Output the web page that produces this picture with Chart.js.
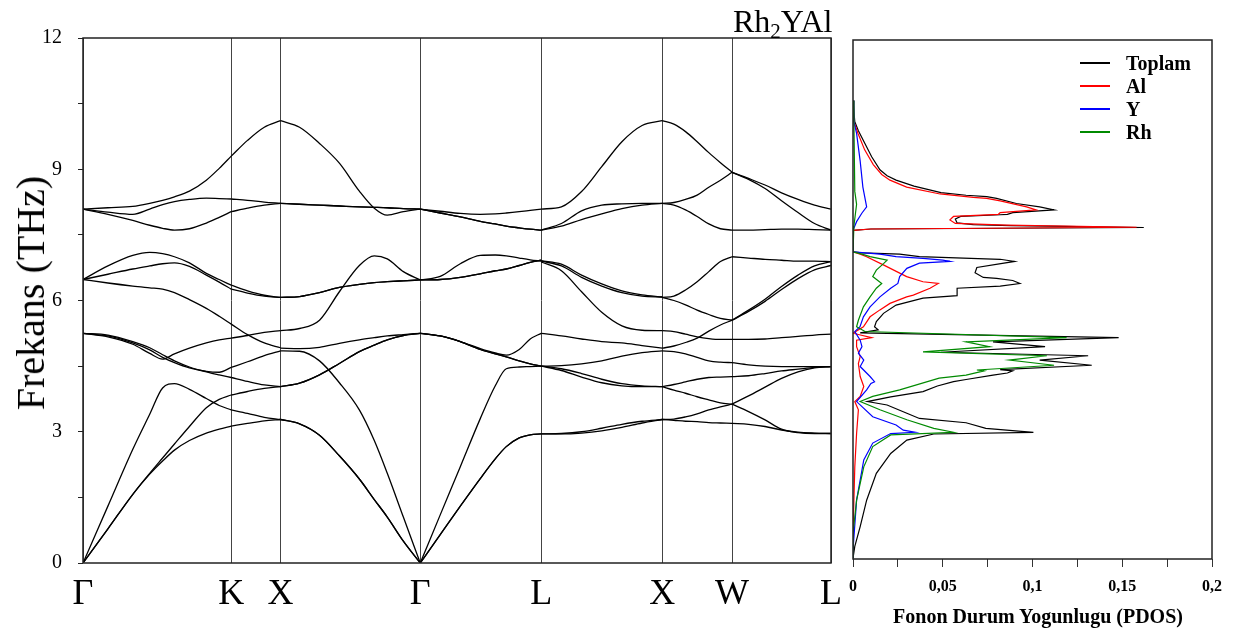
<!DOCTYPE html>
<html>
<head>
<meta charset="utf-8">
<script src="https://cdn.jsdelivr.net/npm/chart.js@4.4.1/dist/chart.umd.min.js"></script>
<style>
  body { margin: 0; background: #fff; width: 1233px; height: 637px; position: relative; overflow: hidden;
         font-family: "Liberation Serif", "DejaVu Serif", serif; color: #000; }
  canvas { position: absolute; top: 0; }
  #bandChart { left: 0; }
  #dosChart { left: 845px; }
  .txt { position: absolute; white-space: nowrap; line-height: 1; }
  #title { left: 733px; top: 5px; font-size: 32px; }
  #title sub { font-size: 21px; vertical-align: -6px; line-height: 0; }
  #ytitle { left: 31px; top: 293px; font-size: 40px; transform: translate(-50%, -50%) rotate(-90deg); }
  #xtitle2 { left: 1038px; top: 616px; font-size: 20px; font-weight: bold; transform: translate(-50%, -50%); }
  .leg { position: absolute; left: 1080px; font-size: 20px; font-weight: bold; white-space: nowrap; }
  .leg i { position: absolute; left: 0; top: 10px; width: 30px; height: 2px; }
  .leg span { margin-left: 46px; }
</style>
</head>
<body>
<canvas id="bandChart" width="845" height="637"></canvas>
<canvas id="dosChart" width="388" height="637"></canvas>
<div class="txt" id="title">Rh<sub>2</sub>YAl</div>
<div class="txt" id="ytitle">Frekans (THz)</div>
<div class="txt" id="xtitle2">Fonon Durum Yogunlugu (PDOS)</div>
<div class="leg" style="top:52px"><i style="background:#000"></i><span>Toplam</span></div>
<div class="leg" style="top:75px"><i style="background:#ff0000"></i><span>Al</span></div>
<div class="leg" style="top:98px"><i style="background:#0000ff"></i><span>Y</span></div>
<div class="leg" style="top:121px"><i style="background:#008a00"></i><span>Rh</span></div>
<script>
// yüksek simetri noktaları (yol uzunluğu, 2π/a)
const symLabels = ['Γ', 'K', 'X', 'Γ', 'L', 'X', 'W', 'L'];
const symPos = [0, 1.061, 1.414, 2.414, 3.280, 4.146, 4.646, 5.354];

// her segmentteki örnek noktalar (segment kesri)
const kFracGK = [0, 0.168, 0.336, 0.450, 0.537, 0.617, 0.718, 0.832, 0.919, 1];
const kFracKX = [0, 0.33, 0.67, 1];
const kFracXG = [0, 0.136, 0.279, 0.421, 0.564, 0.671, 0.764, 0.879, 1];
const kFracGL = [0, 0.165, 0.331, 0.496, 0.620, 0.711, 0.818, 0.909, 1];
const kFrac6 = [0, 1/6, 2/6, 3/6, 4/6, 5/6, 1];

// frekanslar (THz)
const bandsGK = [
  [8.09, 8.12, 8.15, 8.22, 8.29, 8.37, 8.50, 8.75, 9.02, 9.30],
  [8.09, 8.02, 7.97, 8.09, 8.19, 8.26, 8.31, 8.34, 8.33, 8.32],
  [8.09, 7.97, 7.83, 7.72, 7.65, 7.61, 7.64, 7.77, 7.90, 8.03],
  [6.48, 6.79, 7.03, 7.10, 7.07, 7.00, 6.86, 6.62, 6.48, 6.35],
  [6.48, 6.60, 6.72, 6.79, 6.84, 6.86, 6.78, 6.58, 6.42, 6.26],
  [6.48, 6.40, 6.33, 6.29, 6.26, 6.18, 6.02, 5.82, 5.64, 5.46],
  [5.25, 5.17, 5.00, 4.79, 4.66, 4.78, 4.91, 5.03, 5.10, 5.14],
  [5.25, 5.19, 5.03, 4.87, 4.70, 4.58, 4.46, 4.38, 4.36, 4.47],
  [5.25, 5.21, 5.06, 4.92, 4.76, 4.62, 4.48, 4.37, 4.30, 4.24],
  [0, 1.30, 2.60, 3.40, 4.00, 4.10, 3.97, 3.76, 3.60, 3.50],
  [0, 0.78, 1.57, 2.05, 2.40, 2.72, 3.12, 3.55, 3.74, 3.84],
  [0, 0.78, 1.57, 2.03, 2.33, 2.58, 2.80, 2.97, 3.06, 3.13]
];
const bandsKX = [
  [9.30, 9.66, 9.96, 10.11],
  [8.32, 8.29, 8.25, 8.22],
  [8.03, 8.11, 8.18, 8.22],
  [6.35, 6.22, 6.12, 6.07],
  [6.26, 6.17, 6.10, 6.07],
  [5.46, 5.22, 5.03, 4.92],
  [5.14, 5.20, 5.27, 5.31],
  [4.47, 4.60, 4.74, 4.85],
  [4.24, 4.15, 4.07, 4.03],
  [3.84, 3.92, 3.99, 4.03],
  [3.50, 3.42, 3.33, 3.28],
  [3.13, 3.19, 3.25, 3.28]
];
const bandsXG = [
  [10.11, 9.96, 9.59, 9.14, 8.50, 8.11, 7.95, 8.03, 8.09],
  [8.22, 8.20, 8.18, 8.16, 8.14, 8.13, 8.12, 8.10, 8.09],
  [8.22, 8.20, 8.18, 8.16, 8.14, 8.13, 8.12, 8.10, 8.09],
  [6.07, 6.09, 6.18, 6.30, 6.37, 6.41, 6.43, 6.45, 6.47],
  [6.07, 6.09, 6.18, 6.30, 6.37, 6.41, 6.43, 6.45, 6.47],
  [5.31, 5.36, 5.55, 6.20, 6.80, 7.02, 6.95, 6.66, 6.47],
  [4.91, 4.90, 4.93, 5.02, 5.10, 5.15, 5.19, 5.22, 5.25],
  [4.85, 4.84, 4.62, 4.12, 3.50, 2.80, 2.05, 1.05, 0],
  [4.03, 4.11, 4.30, 4.56, 4.83, 4.98, 5.10, 5.20, 5.25],
  [4.03, 4.11, 4.30, 4.56, 4.83, 4.98, 5.10, 5.20, 5.25],
  [3.28, 3.18, 2.92, 2.45, 1.92, 1.45, 1.05, 0.50, 0],
  [3.28, 3.18, 2.92, 2.45, 1.92, 1.45, 1.05, 0.50, 0]
];
const bandsGL = [
  [8.09, 8.04, 7.99, 7.97, 7.98, 8.00, 8.03, 8.06, 8.09],
  [8.09, 8.00, 7.91, 7.81, 7.75, 7.70, 7.66, 7.63, 7.61],
  [8.09, 8.00, 7.91, 7.81, 7.75, 7.70, 7.66, 7.63, 7.61],
  [6.47, 6.55, 6.84, 7.03, 7.04, 7.02, 6.97, 6.93, 6.90],
  [6.47, 6.48, 6.53, 6.61, 6.68, 6.72, 6.80, 6.87, 6.92],
  [6.47, 6.48, 6.53, 6.61, 6.68, 6.72, 6.80, 6.87, 6.92],
  [5.25, 5.19, 5.06, 4.90, 4.80, 4.75, 4.88, 5.12, 5.25],
  [5.25, 5.19, 5.06, 4.88, 4.78, 4.71, 4.62, 4.55, 4.50],
  [5.25, 5.19, 5.06, 4.88, 4.78, 4.71, 4.62, 4.55, 4.50],
  [0, 1.10, 2.20, 3.30, 4.05, 4.44, 4.48, 4.49, 4.50],
  [0, 0.65, 1.30, 1.93, 2.38, 2.66, 2.86, 2.93, 2.95],
  [0, 0.65, 1.30, 1.93, 2.38, 2.66, 2.86, 2.93, 2.95]
];
const bandsLX = [
  [8.09, 8.14, 8.49, 9.06, 9.63, 10.00, 10.11],
  [7.61, 7.76, 8.05, 8.18, 8.21, 8.22, 8.22],
  [7.61, 7.70, 7.85, 7.98, 8.10, 8.18, 8.22],
  [6.91, 6.83, 6.58, 6.38, 6.22, 6.13, 6.08],
  [6.90, 6.79, 6.53, 6.33, 6.18, 6.10, 6.08],
  [6.88, 6.68, 6.20, 5.73, 5.42, 5.32, 5.31],
  [5.25, 5.19, 5.12, 5.06, 5.03, 4.97, 4.91],
  [4.50, 4.51, 4.55, 4.62, 4.73, 4.81, 4.85],
  [4.50, 4.44, 4.33, 4.20, 4.10, 4.05, 4.03],
  [4.50, 4.40, 4.25, 4.12, 4.05, 4.03, 4.03],
  [2.95, 2.96, 3.00, 3.08, 3.17, 3.24, 3.28],
  [2.95, 2.95, 2.97, 3.02, 3.10, 3.20, 3.28]
];
const bandsXW = [
  [10.11, 10.03, 9.86, 9.63, 9.38, 9.15, 8.93],
  [8.22, 8.24, 8.31, 8.41, 8.59, 8.75, 8.93],
  [8.22, 8.18, 8.07, 7.92, 7.75, 7.64, 7.61],
  [6.07, 6.10, 6.24, 6.43, 6.66, 6.89, 7.00],
  [6.07, 6.00, 5.90, 5.78, 5.68, 5.59, 5.55],
  [5.31, 5.29, 5.23, 5.17, 5.13, 5.11, 5.11],
  [4.91, 4.96, 5.04, 5.14, 5.30, 5.44, 5.55],
  [4.85, 4.83, 4.78, 4.70, 4.62, 4.59, 4.58],
  [4.03, 4.08, 4.14, 4.20, 4.24, 4.25, 4.26],
  [4.03, 3.95, 3.88, 3.80, 3.73, 3.66, 3.63],
  [3.28, 3.29, 3.34, 3.41, 3.50, 3.57, 3.63],
  [3.28, 3.26, 3.24, 3.23, 3.21, 3.20, 3.19]
];
const bandsWL = [
  [8.93, 8.79, 8.64, 8.46, 8.31, 8.18, 8.09],
  [8.93, 8.77, 8.56, 8.28, 8.01, 7.76, 7.61],
  [7.61, 7.61, 7.62, 7.63, 7.63, 7.62, 7.61],
  [7.00, 6.97, 6.94, 6.92, 6.90, 6.90, 6.89],
  [5.55, 5.78, 6.03, 6.32, 6.58, 6.79, 6.89],
  [5.55, 5.75, 5.98, 6.25, 6.50, 6.70, 6.80],
  [5.11, 5.11, 5.12, 5.15, 5.18, 5.21, 5.23],
  [4.58, 4.53, 4.50, 4.49, 4.49, 4.49, 4.49],
  [4.26, 4.28, 4.33, 4.39, 4.43, 4.47, 4.49],
  [3.63, 3.46, 3.27, 3.06, 2.98, 2.96, 2.96],
  [3.63, 3.82, 4.02, 4.22, 4.37, 4.46, 4.49],
  [3.19, 3.17, 3.12, 3.04, 2.99, 2.97, 2.96]
];

// PDOS: [frekans (THz), durum yoğunluğu]
const pdosTotal = [
  [10.6, 0], [10.11, 0.001], [9.9, 0.003], [9.6, 0.0067], [9.3, 0.0104], [9.0, 0.015], [8.86, 0.019],
  [8.76, 0.024], [8.62, 0.034], [8.47, 0.049], [8.41, 0.063], [8.38, 0.0745], [8.34, 0.080], [8.22, 0.091],
  [8.14, 0.104], [8.07, 0.112], [8.01, 0.089], [7.97, 0.086], [7.96, 0.082], [7.92, 0.060], [7.86, 0.057],
  [7.77, 0.058], [7.73, 0.067], [7.71, 0.088], [7.665, 0.162], [7.63, 0.01], [7.60, 0], [7.10, 0],
  [7.08, 0.005], [7.05, 0.026], [6.99, 0.037], [6.93, 0.082], [6.88, 0.090], [6.74, 0.069], [6.62, 0.068],
  [6.51, 0.0726], [6.49, 0.080], [6.44, 0.089], [6.37, 0.093], [6.31, 0.082], [6.26, 0.058], [6.09, 0.058],
  [6.03, 0.039], [5.87, 0.024], [5.68, 0.017], [5.49, 0.013], [5.37, 0.012], [5.30, 0.014], [5.23, 0.004],
  [5.12, 0.148], [5.02, 0.078], [4.91, 0.107], [4.78, 0.049], [4.70, 0.131], [4.60, 0.104], [4.48, 0.133],
  [4.38, 0.082], [4.35, 0.089], [4.30, 0.086], [4.25, 0.078], [4.15, 0.063], [4.10, 0.056], [4.00, 0.047],
  [3.87, 0.039], [3.75, 0.021], [3.64, 0.008], [3.56, 0.019], [3.37, 0.030], [3.25, 0.037], [3.15, 0.063],
  [3.02, 0.074], [2.93, 0.1005], [2.89, 0.045], [2.75, 0.030], [2.44, 0.021], [1.98, 0.013], [1.36, 0.0076],
  [0.75, 0.004], [0.29, 0.001], [0.02, 0]
];
const pdosAl = [
  [10.6, 0], [10.11, 0.0005], [9.84, 0.0028], [9.46, 0.0065], [9.12, 0.0113], [8.89, 0.016], [8.76, 0.0206],
  [8.60, 0.0299], [8.44, 0.0485], [8.36, 0.067], [8.34, 0.0745], [8.28, 0.082], [8.14, 0.0967], [8.07, 0.102],
  [8.01, 0.082], [7.97, 0.081], [7.92, 0.056], [7.84, 0.054], [7.76, 0.057], [7.72, 0.0856], [7.67, 0.158],
  [7.63, 0.01], [7.60, 0], [7.10, 0], [7.05, 0.004], [6.99, 0.0076], [6.80, 0.0169], [6.53, 0.0299],
  [6.41, 0.039], [6.37, 0.0475], [6.26, 0.0429], [6.10, 0.0336], [6.06, 0.0299], [5.91, 0.0206],
  [5.76, 0.015], [5.60, 0.0095], [5.37, 0.0058], [5.22, 0], [5.12, 0.0104], [5.06, 0.002], [4.91, 0.002],
  [4.68, 0.004], [4.52, 0.003], [4.22, 0.004], [3.99, 0.006], [3.76, 0.004], [3.64, 0.001], [3.45, 0.003],
  [2.90, 0.002], [2.13, 0.001], [0.59, 0], [0.02, 0]
];
const pdosY = [
  [10.6, 0], [10.11, 0.0005], [9.84, 0.002], [9.2, 0.004], [8.6, 0.0055], [8.14, 0.0076], [8.0, 0.005],
  [7.8, 0.002], [7.6, 0], [7.1, 0], [7.05, 0.015], [6.99, 0.024], [6.95, 0.039], [6.91, 0.050], [6.88, 0.054],
  [6.84, 0.037], [6.72, 0.030], [6.53, 0.026], [6.37, 0.025], [6.26, 0.021], [6.06, 0.015], [5.83, 0.0095],
  [5.60, 0.0058], [5.37, 0.0039], [5.26, 0.001], [5.06, 0.004], [4.91, 0.005], [4.76, 0.003], [4.60, 0.006],
  [4.45, 0.004], [4.22, 0.0095], [4.10, 0.012], [4.06, 0.010], [3.91, 0.0076], [3.64, 0.002], [3.29, 0.011],
  [3.10, 0.024], [2.98, 0.028], [2.93, 0.0345], [2.90, 0.021], [2.68, 0.011], [2.29, 0.006], [1.36, 0.002],
  [0.21, 0], [0.02, 0]
];
const pdosRh = [
  [10.6, 0], [10.1, 0.0005], [8.5, 0.001], [8.2, 0.002], [7.7, 0.0005], [7.6, 0], [7.1, 0], [7.05, 0.005],
  [6.99, 0.0095], [6.91, 0.019], [6.83, 0.017], [6.68, 0.013], [6.53, 0.011], [6.37, 0.016], [6.26, 0.013],
  [6.06, 0.0095], [5.83, 0.0058], [5.52, 0.003], [5.37, 0.002], [5.26, 0.0067], [5.12, 0.119], [5.02, 0.063],
  [4.91, 0.076], [4.79, 0.039], [4.70, 0.108], [4.60, 0.087], [4.48, 0.112], [4.37, 0.069], [4.35, 0.073],
  [4.25, 0.063], [4.18, 0.048], [3.91, 0.026], [3.76, 0.011], [3.64, 0.004], [3.45, 0.015], [3.22, 0.030],
  [3.02, 0.045], [2.93, 0.056], [2.87, 0.021], [2.60, 0.011], [2.13, 0.006], [1.36, 0.002], [0.59, 0], [0.02, 0]
];

const serif = '"Liberation Serif", "DejaVu Serif", serif';

// çerçeve
const framePlugin = {
  id: 'frame',
  afterDraw(chart) {
    const a = chart.chartArea, ctx = chart.ctx;
    ctx.save();
    ctx.strokeStyle = '#222';
    ctx.lineWidth = 1.5;
    ctx.strokeRect(a.left, a.top, a.right - a.left, a.bottom - a.top);
    ctx.restore();
  }
};

// eksen boyutlarını sabitle (etiket taşması için ekstra boşluk istemesin)
const fixSize = (w, h) => s => {
  if (w != null) s.width = w;
  if (h != null) s.height = h;
  s.paddingLeft = s.paddingRight = s.paddingTop = s.paddingBottom = 0;
};

// bant verisi
const segments = [
  [0, 1, kFracGK, bandsGK],
  [1, 2, kFracKX, bandsKX],
  [2, 3, kFracXG, bandsXG],
  [3, 4, kFracGL, bandsGL],
  [4, 5, kFrac6, bandsLX],
  [5, 6, kFrac6, bandsXW],
  [6, 7, kFrac6, bandsWL]
];
const bandDatasets = [];
segments.forEach(([i0, i1, fr, bands]) => {
  const k0 = symPos[i0], k1 = symPos[i1];
  bands.forEach(b => {
    bandDatasets.push({
      data: fr.map((t, j) => ({ x: k0 + t * (k1 - k0), y: b[j] })),
      borderColor: '#000',
      borderWidth: 1.3,
      pointRadius: 0,
      fill: false,
      cubicInterpolationMode: 'monotone'
    });
  });
});

new Chart(document.getElementById('bandChart'), {
  type: 'line',
  data: { datasets: bandDatasets },
  options: {
    responsive: false,
    animation: false,
    layout: { padding: { top: 38, right: 14, left: 0, bottom: 0 } },
    plugins: { legend: { display: false }, tooltip: { enabled: false } },
    scales: {
      x: {
        type: 'linear', min: 0, max: symPos[symPos.length - 1],
        afterBuildTicks: s => { s.ticks = symPos.map(v => ({ value: v })); },
        afterFit: fixSize(null, 74),
        ticks: {
          autoSkip: false, maxRotation: 0, padding: 10, color: '#000',
          font: { family: serif, size: 36 },
          callback: (v, i) => symLabels[i]
        },
        grid: { color: '#444', lineWidth: 1, drawTicks: false },
        border: { display: false }
      },
      y: {
        min: 0, max: 12,
        afterFit: fixSize(83, null),
        ticks: {
          stepSize: 1.5, padding: 16, color: '#000',
          font: { family: serif, size: 20 },
          callback: v => (Math.abs(v % 3) < 1e-6 ? v : '')
        },
        grid: { drawOnChartArea: false, tickLength: 5, color: '#222' },
        border: { display: false }
      }
    }
  },
  plugins: [framePlugin]
});

// PDOS
const toPts = arr => arr.map(p => ({ x: p[1], y: p[0] }));
new Chart(document.getElementById('dosChart'), {
  type: 'scatter',
  data: {
    datasets: [
      { label: 'Rh', data: toPts(pdosRh), borderColor: '#008a00' },
      { label: 'Y', data: toPts(pdosY), borderColor: '#0000ff' },
      { label: 'Al', data: toPts(pdosAl), borderColor: '#ff0000' },
      { label: 'Toplam', data: toPts(pdosTotal), borderColor: '#000' }
    ].map(d => Object.assign(d, { showLine: true, pointRadius: 0, borderWidth: 1.2, tension: 0 }))
  },
  options: {
    responsive: false,
    animation: false,
    layout: { padding: { top: 40, right: 21, left: 8, bottom: 0 } },
    plugins: { legend: { display: false }, tooltip: { enabled: false } },
    scales: {
      x: {
        type: 'linear', min: 0, max: 0.2,
        afterFit: fixSize(null, 78),
        ticks: {
          stepSize: 0.025, maxRotation: 0, autoSkip: false, padding: 10, color: '#000',
          font: { family: serif, size: 16, weight: 'bold' },
          callback: v => {
            const r = Math.round(v * 1000) / 1000;
            return Math.abs(r / 0.05 - Math.round(r / 0.05)) < 1e-6 ? String(r).replace('.', ',') : '';
          }
        },
        grid: { drawOnChartArea: false, tickLength: 8, color: '#333' },
        border: { display: false }
      },
      y: { min: 0, max: 12, display: false }
    }
  },
  plugins: [framePlugin]
});
</script>
</body>
</html>
